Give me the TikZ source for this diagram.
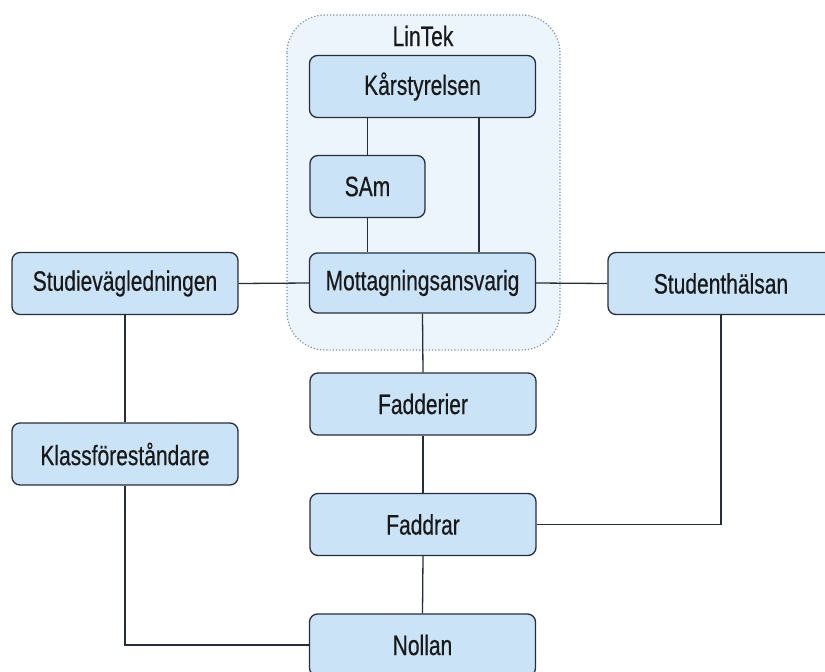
\documentclass[tikz,border=0pt]{standalone}
\usepackage{fontspec}
\setmainfont{Liberation Sans}[FakeStretch=0.75,FakeBold=0.4]
\definecolor{boxfill}{RGB}{202,227,246}
\definecolor{boxline}{RGB}{40,45,60}
\definecolor{grpfill}{RGB}{236,245,252}
\definecolor{grpline}{RGB}{125,145,175}
\tikzset{
  orgbox/.style={draw=boxline, fill=boxfill, line width=1.3pt, rounded corners=8pt,
    minimum width=226pt, minimum height=62pt, inner sep=0pt,
    text=black!90, font=\fontsize{28}{32}\selectfont},
  link/.style={draw=boxline, line width=1.3pt},
  grp/.style={draw=grpline, fill=grpfill, line width=1.2pt, dotted, rounded corners=38pt}
}
\begin{document}
\begin{tikzpicture}[x=1pt,y=-1pt]
\useasboundingbox (0,0) rectangle (825,672);
\fill[white] (0,0) rectangle (825,672);
% LinTek group
\path[grp] (287,15) rectangle (560,350);
\node[font=\fontsize{28}{32}\selectfont, text=black!90] (lintek) at (423,36) {LinTek};
% nodes
\node[orgbox] (kar) at (422.5,86.5) {Kårstyrelsen};
\node[orgbox, minimum width=115pt] (sam) at (367.5,186.5) {SAm};
\node[orgbox, minimum height=60pt] (mott) at (422.5,283) {Mottagningsansvarig};
\node[orgbox] (stud) at (125,283.5) {Studievägledningen};
\node[orgbox] (halsan) at (721,283.5) {Studenthälsan};
\node[orgbox] (klass) at (125,454) {Klassföreståndare};
\node[orgbox] (fadderier) at (423,404) {Fadderier};
\node[orgbox] (faddrar) at (423,524.5) {Faddrar};
\node[orgbox] (nollan) at (422.5,645) {Nollan};
% connectors
\draw[link] (sam.north) -- (sam.north |- kar.south);
\draw[link] (sam.south) -- (sam.south |- mott.north);
\draw[link] ([xshift=56.5pt]kar.south) -- ([xshift=56.5pt]mott.north);
\draw[link] (stud.east) -- (mott.west);
\draw[link] (mott.east) -- (halsan.west);
\draw[link] (mott.south) -- (fadderier.north);
\draw[link] (fadderier.south) -- (faddrar.north);
\draw[link] (faddrar.south) -- (nollan.north);
\draw[link] (stud.south) -- (klass.north);
\draw[link] (klass.south) |- (nollan.west);
\draw[link] (faddrar.east) -| (halsan.south);
\end{tikzpicture}
\end{document}
